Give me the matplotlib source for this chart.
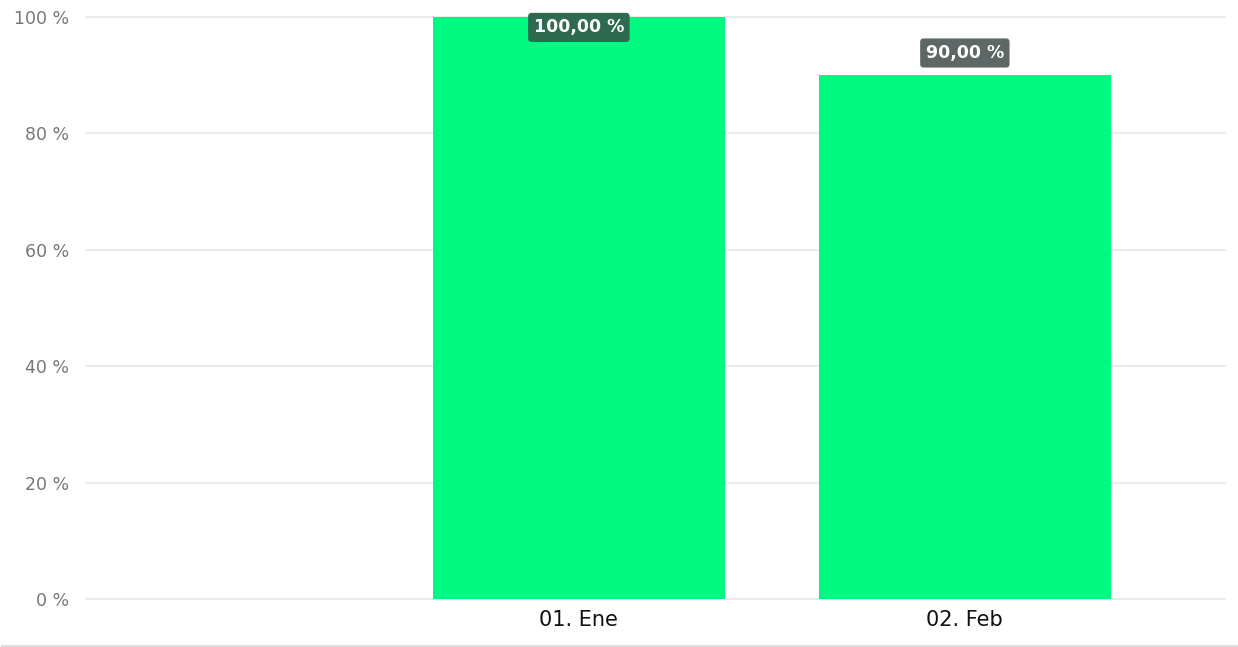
import matplotlib.pyplot as plt
from matplotlib.lines import Line2D

categories = ['', '01. Ene', '02. Feb']
values = [None, 100.0, 90.0]
labels = ['', '100,00 %', '90,00 %']
label_colors = [None, '#2e6a50', '#5c6766']
y_ticks = [0, 20, 40, 60, 80, 100]

fig = plt.figure(figsize=(12.38, 6.47), dpi=100)
ax = fig.add_axes([86 / 1238, 48 / 647, 1139 / 1238, 582 / 647])

pos = [i for i, v in enumerate(values) if v is not None]
vals = [values[i] for i in pos]
ax.bar(pos, vals, width=0.756, color='#00f981', zorder=2)

ax.set_xlim(-0.277, 2.674)
ax.set_ylim(0, 100)
ax.set_yticks(y_ticks)
ax.set_yticklabels(['%d %%' % t for t in y_ticks], color='#777777', fontsize=12.5)
ax.set_xticks(range(len(categories)))
ax.set_xticklabels(categories, fontsize=15, color='#111111',
                   family=['Liberation Sans Narrow', 'DejaVu Sans'])
ax.tick_params(axis='both', length=0)
ax.tick_params(axis='y', pad=12)
ax.tick_params(axis='x', pad=8)
for s in ax.spines.values():
    s.set_visible(False)

# horizontal grid drawn by hand so the 0 and 100 lines are not clipped
for t in y_ticks:
    ax.axhline(t, color='#e8e8e8', linewidth=1.2, zorder=0, clip_on=False)

for i in pos:
    v = values[i]
    dy = -7.5 if v >= 100 else 16
    ax.annotate(labels[i], (i, v), xytext=(0, dy), textcoords='offset points',
                ha='center', va='center', color='white', fontsize=12.5,
                fontweight='bold', annotation_clip=False, zorder=4,
                bbox=dict(boxstyle='round,pad=0.32,rounding_size=0.2',
                          fc=label_colors[i], ec='none'))

fig.add_artist(Line2D([0.002, 1], [1.5 / 647, 1.5 / 647], color='#dddddd',
                      linewidth=1.5, transform=fig.transFigure))

fig.savefig('out.png', dpi=100)
